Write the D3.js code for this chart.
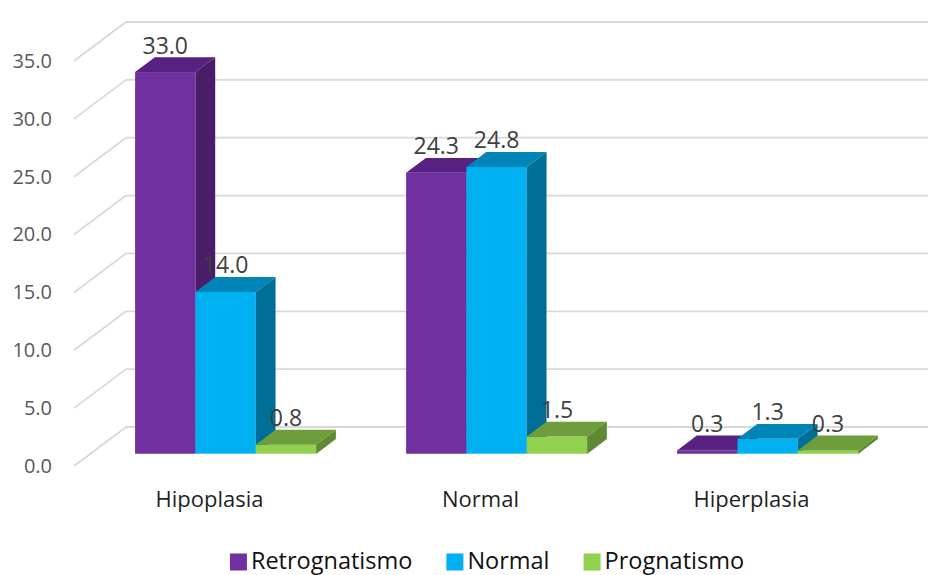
<!DOCTYPE html>
<html>
<head>
<meta charset="utf-8">
<script src="https://cdn.jsdelivr.net/npm/d3@7"></script>
<style>
  html, body { margin: 0; padding: 0; background: #fff; }
  svg { display: block; }
</style>
</head>
<body>
<svg id="chart" width="928" height="575"></svg>
<script>
// Data
const categories = ["Hipoplasia", "Normal", "Hiperplasia"];
const seriesNames = ["Retrognatismo", "Normal", "Prognatismo"];
const retrognatismo = [33.0, 24.3, 0.3];
const normal = [14.0, 24.8, 1.3];
const prognatismo = [0.8, 1.5, 0.3];
const yTicks = [0, 5, 10, 15, 20, 25, 30, 35];

const seriesValues = [retrognatismo, normal, prognatismo];

// Face colours per series: front, top, side
const palette = [
  { front: "#7030A0", top: "#562180", side: "#4A1D69", edge: "#9A6BC2" },
  { front: "#00B0F0", top: "#0085B6", side: "#006F98", edge: "#5FD0F8" },
  { front: "#92D050", top: "#6E9D3C", side: "#5F8A33", edge: "#B6E386" }
];

const FONT = "'Open Sans', 'Noto Sans', sans-serif";
const svg = d3.select("#chart");

// Oblique projection: full floor depth shifts right/up
const depthX = 52, depthY = -39;
const barZ0 = 0.31, barZ1 = 0.69;

// Front-plane scales
const y = d3.scaleLinear().domain([0, 35]).range([466, 61]);
const x = d3.scaleBand().domain(categories).range([74, 887])
  .paddingInner(0.332).paddingOuter(0.166);
const xs = d3.scaleBand().domain(seriesNames).range([0, x.bandwidth()]);

const backRight = 887 + depthX;

// Gridlines: back wall horizontals and left wall diagonals
const grid = svg.append("g").attr("stroke", "#D9D9D9").attr("stroke-width", 1.8).attr("fill", "none");
yTicks.forEach(v => {
  grid.append("line")
    .attr("x1", 74).attr("y1", y(v))
    .attr("x2", 74 + depthX).attr("y2", y(v) + depthY);
  grid.append("line")
    .attr("x1", 74 + depthX).attr("y1", y(v) + depthY)
    .attr("x2", backRight).attr("y2", y(v) + depthY);
});

// Value axis labels on the front-left edge
const yAxis = d3.axisLeft(y).tickValues(yTicks).tickFormat(d3.format(".1f"))
  .tickSize(0).tickPadding(22);
const yAxisG = svg.append("g").attr("transform", "translate(74,0)").call(yAxis);
yAxisG.select(".domain").remove();
yAxisG.selectAll("text")
  .attr("font-family", FONT).attr("font-size", 20).attr("fill", "#595959");

// Bars
const bars = svg.append("g");
const dx0 = depthX * barZ0, dy0 = depthY * barZ0;
const ddx = depthX * (barZ1 - barZ0), ddy = depthY * (barZ1 - barZ0);

const barData = [];
categories.forEach((c, ci) => {
  seriesNames.forEach((s, si) => {
    barData.push({ cat: c, series: s, si, value: seriesValues[si][ci] });
  });
});

barData.forEach(d => {
  const col = palette[d.si];
  const x0 = x(d.cat) + xs(d.series) + dx0;
  const x1 = x0 + xs.bandwidth();
  const yb = y(0) + dy0;
  const yt = y(d.value) + dy0;
  const g = bars.append("g");
  g.append("rect")
    .attr("x", x0).attr("y", yt)
    .attr("width", x1 - x0).attr("height", yb - yt)
    .attr("fill", col.front);
  g.append("line")
    .attr("x1", x0).attr("x2", x1).attr("y1", yb - 0.5).attr("y2", yb - 0.5)
    .attr("stroke", col.edge).attr("stroke-width", 1).attr("opacity", 0.8);
  g.append("polygon")
    .attr("points", [[x0, yt], [x1, yt], [x1 + ddx, yt + ddy], [x0 + ddx, yt + ddy]].join(" "))
    .attr("fill", col.top);
  g.append("polygon")
    .attr("points", [[x1, yt], [x1 + ddx, yt + ddy], [x1 + ddx, yb + ddy], [x1, yb]].join(" "))
    .attr("fill", col.side);
});

// Value labels above each bar
svg.append("g").selectAll("text").data(barData).join("text")
  .attr("x", d => x(d.cat) + xs(d.series) + dx0 + xs.bandwidth() / 2)
  .attr("y", d => y(d.value) + dy0 - 18.5)
  .attr("text-anchor", "middle")
  .attr("font-family", FONT).attr("font-size", 23).attr("fill", "#404040")
  .text(d => d.value.toFixed(1));

// Category axis labels
const xAxis = d3.axisBottom(x).tickSize(0).tickPadding(0);
const xAxisG = svg.append("g").call(xAxis);
xAxisG.select(".domain").remove();
xAxisG.selectAll("text")
  .attr("y", 506.5).attr("dy", null)
  .attr("font-family", FONT).attr("font-size", 22).attr("fill", "#1F1F1F");

// Legend
const legend = svg.append("g");
const items = legend.selectAll("g").data(seriesNames).join("g");
items.append("rect").attr("width", 17).attr("height", 17).attr("y", 553.5)
  .attr("fill", (d, i) => palette[i].front);
items.append("text").attr("x", 21).attr("y", 569)
  .attr("font-family", FONT).attr("font-size", 23.5).attr("fill", "#111")
  .text(d => d);
const widths = [];
items.each(function() {
  widths.push(21 + this.querySelector("text").getComputedTextLength());
});
const gap = 34;
const total = d3.sum(widths) + gap * (widths.length - 1);
let cursor = 487 - total / 2;
items.attr("transform", (d, i) => {
  const t = `translate(${cursor},0)`;
  cursor += widths[i] + gap;
  return t;
});
</script>
</body>
</html>
